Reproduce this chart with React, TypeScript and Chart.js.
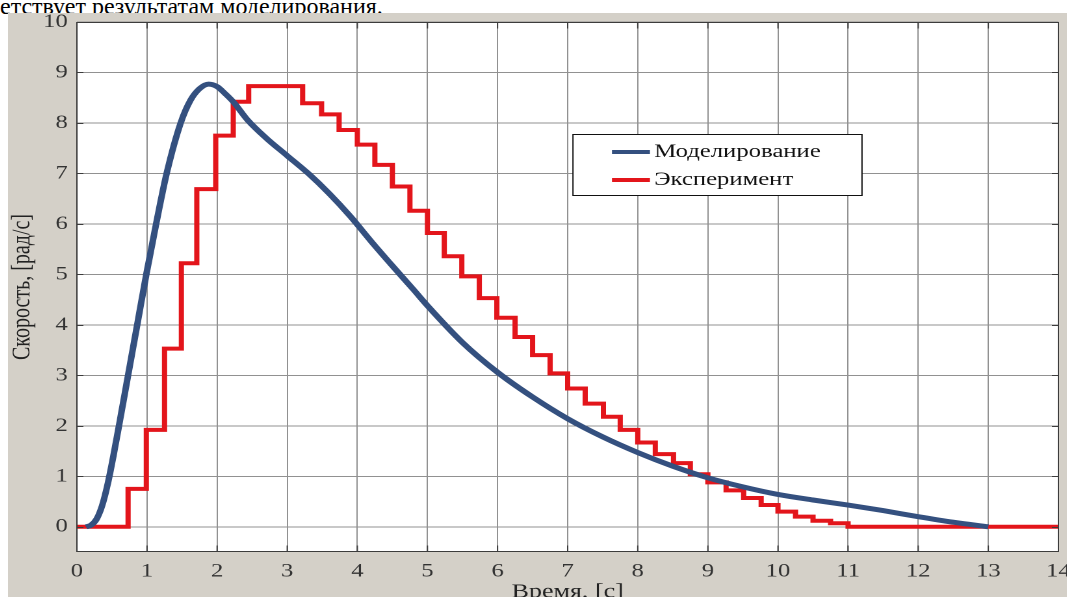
import React, { useEffect, useRef } from "react";
import { Chart, registerables } from "chart.js";

Chart.register(...registerables);

// ---- data ----
const modelTime = [0.13, 0.2, 0.28, 0.36, 0.44, 0.52, 0.6, 0.73, 0.86, 0.99, 1.13, 1.28, 1.48, 1.62, 1.75, 1.88, 2.0, 2.1, 2.23, 2.44, 2.7, 3.0, 3.3, 3.6, 3.9, 4.2, 4.5, 4.8, 5.0, 5.5, 6.0, 6.5, 7.0, 7.5, 8.0, 8.5, 9.0, 9.5, 10.0, 10.5, 11.0, 11.5, 12.0, 12.5, 13.0];
const modelSpeed = [0, 0.03, 0.15, 0.42, 0.85, 1.4, 2.0, 3.0, 4.0, 5.0, 6.0, 7.0, 8.0, 8.45, 8.68, 8.77, 8.72, 8.6, 8.42, 8.05, 7.7, 7.35, 7.0, 6.6, 6.15, 5.65, 5.17, 4.7, 4.38, 3.65, 3.06, 2.57, 2.14, 1.78, 1.47, 1.2, 0.97, 0.79, 0.64, 0.53, 0.43, 0.32, 0.2, 0.09, 0.0];

const expTime = [0, 0.73, 0.99, 1.25, 1.49, 1.71, 1.98, 2.23, 2.45, 3.22, 3.49, 3.74, 4.0, 4.25, 4.5, 4.75, 5.0, 5.24, 5.49, 5.74, 5.99, 6.25, 6.5, 6.75, 7.0, 7.25, 7.51, 7.75, 8.0, 8.25, 8.51, 8.75, 9.0, 9.26, 9.51, 9.76, 10.0, 10.25, 10.5, 10.75, 11.0, 14.0];
const expSpeed = [0, 0.75, 1.92, 3.53, 5.22, 6.69, 7.75, 8.42, 8.73, 8.39, 8.17, 7.86, 7.57, 7.17, 6.74, 6.26, 5.82, 5.36, 4.96, 4.53, 4.14, 3.76, 3.4, 3.04, 2.74, 2.44, 2.18, 1.92, 1.67, 1.44, 1.26, 1.04, 0.88, 0.72, 0.57, 0.43, 0.3, 0.2, 0.12, 0.07, 0.0, 0.0];

const xTickValues = [0, 1, 2, 3, 4, 5, 6, 7, 8, 9, 10, 11, 12, 13, 14];
const yTickValues = [0, 1, 2, 3, 4, 5, 6, 7, 8, 9, 10];

const seriesLabels = ["Моделирование", "Эксперимент"];
const xTitle = "Время, [с]";
const yTitle = "Скорость, [рад/с]";
const caption = "етствует результатам моделирования.";

const BLUE = "#34507f";
const RED = "#e3151b";
const GRID = "#919191";
const SERIF = "'Liberation Serif', 'Times New Roman', serif";
const STRETCH = 1.3; // the figure is stretched horizontally in the reference

const framePlugin = {
  id: "matlabFrame",
  beforeDraw(chart: any) {
    const { ctx, chartArea: a } = chart;
    ctx.save();
    ctx.fillStyle = "#ffffff";
    ctx.fillRect(a.left, a.top, a.right - a.left, a.bottom - a.top);
    ctx.restore();
  },
  afterDraw(chart: any) {
    const { ctx, chartArea: a, scales } = chart;
    ctx.save();
    ctx.strokeStyle = "#3c3c3c";
    ctx.lineWidth = 1;
    const L = a.left;
    const R = a.right;
    const T = Math.round(a.top) + 0.5;
    const B = Math.round(a.bottom) - 0.5;
    ctx.strokeRect(L, T, R - L, B - T);
    ctx.beginPath();
    xTickValues.forEach((v) => {
      const px = scales.x.getPixelForValue(v);
      ctx.moveTo(px, B);
      ctx.lineTo(px, B - 6);
      ctx.moveTo(px, T);
      ctx.lineTo(px, T + 6);
    });
    yTickValues.forEach((v) => {
      const py = Math.round(scales.y.getPixelForValue(v)) + 0.5;
      ctx.moveTo(L, py);
      ctx.lineTo(L + 5, py);
      ctx.moveTo(R, py);
      ctx.lineTo(R - 5, py);
    });
    ctx.stroke();

    // legend box
    const bx = a.left + 381.6;
    const by = a.top + 112;
    const bw = 222.3;
    const bh = 61;
    ctx.fillStyle = "#ffffff";
    ctx.fillRect(bx, by, bw, bh);
    ctx.strokeStyle = "#111111";
    ctx.lineWidth = 1;
    ctx.strokeRect(bx, by + 0.5, bw, bh);
    const colors = [BLUE, RED];
    seriesLabels.forEach((label, i) => {
      const ly = by + 18 + i * 28;
      ctx.strokeStyle = colors[i];
      ctx.lineWidth = 4;
      ctx.beginPath();
      ctx.moveTo(bx + 30, ly);
      ctx.lineTo(bx + 59.2, ly);
      ctx.stroke();
      ctx.fillStyle = "#111111";
      ctx.font = `19px ${SERIF}`;
      ctx.textBaseline = "middle";
      ctx.textAlign = "left";
      ctx.fillText(label, bx + 62.5, ly);
    });
    ctx.restore();
  },
};

export default function App() {
  const canvasRef = useRef<HTMLCanvasElement | null>(null);

  useEffect(() => {
    const canvas = canvasRef.current;
    if (!canvas) return;
    const tickFont = { family: SERIF, size: 19 };
    const chart = new Chart(canvas, {
      type: "line",
      data: {
        datasets: [
          {
            label: seriesLabels[0],
            data: modelTime.map((t, i) => ({ x: t, y: modelSpeed[i] })),
            borderColor: BLUE,
            borderWidth: 5,
            pointRadius: 0,
            cubicInterpolationMode: "monotone",
            fill: false,
            order: 0,
          },
          {
            label: seriesLabels[1],
            data: expTime.map((t, i) => ({ x: t, y: expSpeed[i] })),
            borderColor: RED,
            borderWidth: 4,
            pointRadius: 0,
            stepped: "before",
            borderJoinStyle: "miter",
            fill: false,
            order: 1,
          },
        ],
      },
      options: {
        animation: false,
        responsive: false,
        maintainAspectRatio: false,
        devicePixelRatio: 2,
        layout: { padding: { top: 29, right: 42, bottom: 0, left: 0 } },
        plugins: {
          legend: { display: false },
          tooltip: { enabled: false },
        },
        scales: {
          x: {
            type: "linear",
            min: 0,
            max: 14,
            afterBuildTicks: (s: any) => {
              s.ticks = xTickValues.map((v) => ({ value: v }));
            },
            afterFit: (s: any) => {
              s.height = 81;
            },
            ticks: { font: tickFont, color: "#333333", padding: 8, maxRotation: 0, autoSkip: false },
            grid: { color: GRID, lineWidth: 1, drawTicks: false },
            border: { display: false },
            title: { display: true, text: xTitle, font: { family: SERIF, size: 20 }, color: "#222222", padding: { top: 0, bottom: 29 } },
          },
          y: {
            type: "linear",
            min: -0.5,
            max: 10,
            afterBuildTicks: (s: any) => {
              s.ticks = yTickValues.map((v) => ({ value: v }));
            },
            afterFit: (s: any) => {
              s.width = 53;
            },
            ticks: { font: tickFont, color: "#333333", padding: 7, autoSkip: false },
            grid: { color: GRID, lineWidth: 1, drawTicks: false },
            border: { display: false },
            title: { display: true, text: yTitle, font: { family: SERIF, size: 20, lineHeight: 1 }, color: "#222222", padding: { top: 1, bottom: 0 } },
          },
        },
      },
      plugins: [framePlugin],
    } as any);
    return () => chart.destroy();
  }, []);

  return (
    <div style={{ position: "fixed", left: 0, top: 0, width: 1067, height: 597, background: "#ffffff", overflow: "hidden" }}>
      <div
        style={{
          position: "absolute",
          left: 0,
          top: -6,
          fontFamily: SERIF,
          fontSize: 24,
          lineHeight: "24px",
          color: "#000",
          whiteSpace: "nowrap",
        }}
      >
        {caption}
      </div>
      <div style={{ position: "absolute", left: 8, top: 13, width: 1059, height: 584, background: "#d4d0c8", overflow: "hidden" }}>
        <div style={{ position: "absolute", left: 0, top: -20, width: 850, height: 640, transform: `scaleX(${STRETCH})`, transformOrigin: "0 0" }}>
          <canvas ref={canvasRef} width={850} height={640} style={{ display: "block", width: 850, height: 640 }} />
        </div>
      </div>
    </div>
  );
}
